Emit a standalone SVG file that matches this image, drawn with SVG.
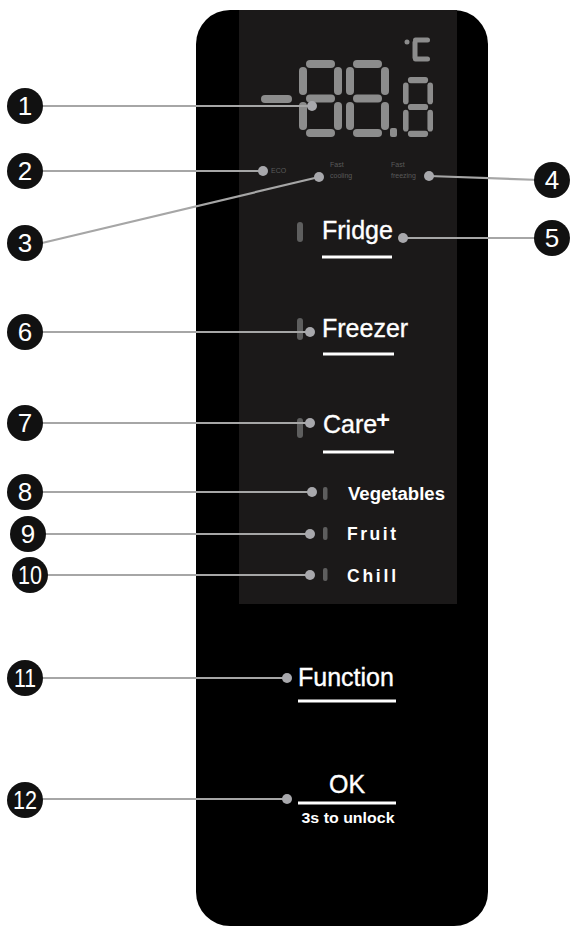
<svg xmlns="http://www.w3.org/2000/svg" width="575" height="926" viewBox="0 0 575 926">
<style>
.seg{fill:#8c8c8c}
.lbl{font-family:"Liberation Sans",Arial,sans-serif;fill:#5a5a5a;font-size:7px}
.btn{font-family:"Liberation Sans",Arial,sans-serif;fill:#fff;font-size:25px;stroke:#fff;stroke-width:0.35}
.sub{font-family:"Liberation Sans",Arial,sans-serif;fill:#fff;font-size:17.5px;font-weight:bold}
.ul{stroke:#fff;stroke-width:3}
.led{fill:#5e5e5e}
.num circle{fill:#111}
.num text{font-family:"Liberation Sans Narrow","Liberation Sans",Arial,sans-serif;fill:#fff;font-size:26px;text-anchor:middle}
.con line{stroke:#a6a6a6;stroke-width:2.2}
.con circle{fill:#a8a8ac}
</style>
<defs>
<g id="d8">
<rect class="seg" x="7" y="0" width="29" height="8" rx="4"/>
<rect class="seg" x="7" y="34.5" width="29" height="8" rx="4"/>
<rect class="seg" x="7" y="69" width="29" height="8" rx="4"/>
<rect class="seg" x="0" y="7" width="8" height="28" rx="4"/>
<rect class="seg" x="35" y="7" width="8" height="28" rx="4"/>
<rect class="seg" x="0" y="42" width="8" height="28" rx="4"/>
<rect class="seg" x="35" y="42" width="8" height="28" rx="4"/>
</g>
</defs>
<rect width="575" height="926" fill="#fff"/>
<g id="panel">
<rect x="196" y="10" width="292" height="916" rx="34" fill="#000"/>
<rect x="239" y="10" width="218" height="594" fill="#1b1919"/>
</g>
<g id="display">
<rect class="seg" x="261" y="95" width="31" height="8" rx="4"/>
<use href="#d8" transform="translate(299,60)"/>
<use href="#d8" transform="translate(346,60)"/>
<rect class="seg" x="390" y="128" width="7" height="9" rx="2"/>
<use href="#d8" transform="translate(403,77) scale(0.698,0.779)"/>
<circle class="seg" cx="407" cy="42" r="2.5"/>
<rect class="seg" x="413" y="37.5" width="17" height="5" rx="2.5"/>
<rect class="seg" x="412.5" y="40" width="5" height="20" rx="2.5"/>
<rect class="seg" x="413" y="56.5" width="17" height="5" rx="2.5"/>
</g>
<g id="indicators">
<text class="lbl" x="271" y="173">ECO</text>
<text class="lbl" x="330" y="167">Fast</text>
<text class="lbl" x="330" y="178">cooling</text>
<text class="lbl" x="391" y="167">Fast</text>
<text class="lbl" x="391" y="178">freezing</text>
</g>
<g id="fridge">
<rect class="led" x="297" y="222" width="6" height="20" rx="3" fill="#6a6a6a"/>
<text class="btn" x="322" y="239">Fridge</text>
<line class="ul" x1="322" y1="257" x2="392" y2="257"/>
</g>
<g id="freezer">
<rect class="led" x="297" y="318" width="6" height="22" rx="3"/>
<text class="btn" x="322" y="337">Freezer</text>
<line class="ul" x1="323" y1="354" x2="394" y2="354"/>
</g>
<g id="care">
<rect class="led" x="297" y="418" width="6" height="20" rx="3"/>
<text class="btn" x="323" y="433">Care</text>
<text x="376" y="428" font-family="Liberation Sans,Arial,sans-serif" font-size="24" font-weight="bold" fill="#fff">+</text>
<line class="ul" x1="323" y1="452" x2="394" y2="452"/>
</g>
<g id="vegetables">
<rect class="led" x="323" y="487" width="4.5" height="13" rx="2"/>
<text class="sub" x="348" y="500" textLength="97" lengthAdjust="spacingAndGlyphs">Vegetables</text>
</g>
<g id="fruit">
<rect class="led" x="323" y="527" width="4.5" height="13" rx="2"/>
<text class="sub" x="347" y="540" textLength="49" lengthAdjust="spacing">Fruit</text>
</g>
<g id="chill">
<rect class="led" x="323" y="568" width="4.5" height="13" rx="2"/>
<text class="sub" x="347" y="582" textLength="49" lengthAdjust="spacing">Chill</text>
</g>
<g id="function">
<text class="btn" x="298" y="686">Function</text>
<line class="ul" x1="298" y1="701" x2="396" y2="701"/>
</g>
<g id="ok">
<text class="btn" x="347" y="793" text-anchor="middle" font-size="23">OK</text>
<line class="ul" x1="298" y1="803" x2="396" y2="803"/>
<text x="348" y="823" text-anchor="middle" font-family="Liberation Sans,Arial,sans-serif" font-size="15.5" font-weight="bold" fill="#fff" textLength="93" lengthAdjust="spacingAndGlyphs">3s to unlock</text>
</g>
<g id="connectors" class="con">
<line x1="40" y1="106" x2="312" y2="106"/><circle cx="312" cy="106" r="5"/>
<line x1="40" y1="171" x2="263" y2="171"/><circle cx="263" cy="171" r="5"/>
<line x1="42" y1="243" x2="319" y2="177"/><circle cx="319" cy="177" r="5"/>
<line x1="429" y1="176" x2="540" y2="180"/><circle cx="429" cy="176" r="5"/>
<line x1="403" y1="238" x2="540" y2="238"/><circle cx="403" cy="238" r="5"/>
<line x1="40" y1="332" x2="310" y2="332"/><circle cx="310" cy="332" r="5"/>
<line x1="40" y1="423" x2="310" y2="423"/><circle cx="310" cy="423" r="5"/>
<line x1="40" y1="492" x2="312" y2="492"/><circle cx="312" cy="492" r="5"/>
<line x1="42" y1="534" x2="310" y2="534"/><circle cx="310" cy="534" r="5"/>
<line x1="44" y1="575" x2="310" y2="575"/><circle cx="310" cy="575" r="5"/>
<line x1="40" y1="678" x2="287" y2="678"/><circle cx="287" cy="678" r="5"/>
<line x1="40" y1="799" x2="287" y2="799"/><circle cx="287" cy="799" r="5"/>
</g>
<g id="n1" class="num"><circle cx="25" cy="106" r="18"/><text x="25" y="115">1</text></g>
<g id="n2" class="num"><circle cx="25" cy="171" r="18"/><text x="25" y="180">2</text></g>
<g id="n3" class="num"><circle cx="25" cy="243" r="18"/><text x="25" y="252">3</text></g>
<g id="n4" class="num"><circle cx="552" cy="180" r="18"/><text x="552" y="189">4</text></g>
<g id="n5" class="num"><circle cx="552" cy="238" r="18"/><text x="552" y="247">5</text></g>
<g id="n6" class="num"><circle cx="25" cy="332" r="18"/><text x="25" y="341">6</text></g>
<g id="n7" class="num"><circle cx="25" cy="423" r="18"/><text x="25" y="432">7</text></g>
<g id="n8" class="num"><circle cx="25" cy="492" r="18"/><text x="25" y="501">8</text></g>
<g id="n9" class="num"><circle cx="28" cy="534" r="18"/><text x="28" y="543">9</text></g>
<g id="n10" class="num"><circle cx="30" cy="575" r="18"/><text x="30" y="584" textLength="24" lengthAdjust="spacingAndGlyphs">10</text></g>
<g id="n11" class="num"><circle cx="25" cy="678" r="18"/><text x="25" y="687" textLength="22" lengthAdjust="spacingAndGlyphs">11</text></g>
<g id="n12" class="num"><circle cx="25" cy="800" r="18"/><text x="25" y="809" textLength="24" lengthAdjust="spacingAndGlyphs">12</text></g>
</svg>
